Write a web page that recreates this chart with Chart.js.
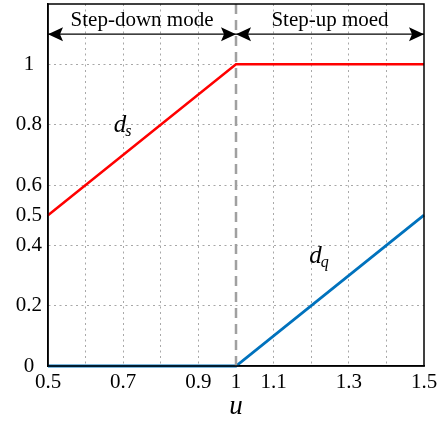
<!DOCTYPE html>
<html><head><meta charset="utf-8">
<script src="https://cdn.jsdelivr.net/npm/chart.js@4/dist/chart.umd.min.js"></script>
<style>html,body{margin:0;padding:0;background:#fff}#wrap{width:438px;height:423px}</style>
</head><body><div id="wrap"><canvas id="c" width="438" height="423"></canvas></div>
<script>
// ---- data ----
const uValues = [0.5, 1.0, 1.5];
const dsValues = [0.5, 1.0, 1.0];
const dqValues = [0.0, 0.0, 0.5];
const xTickLabels = [0.5, 0.7, 0.9, 1, 1.1, 1.3, 1.5];
const yTickLabels = [0, 0.2, 0.4, 0.5, 0.6, 0.8, 1];
const yGridValues = [0.2, 0.4, 0.6, 0.8, 1];
const modeBoundary = 1.0;
const modeArrowLevel = 1.1;
const modeNames = ['Step-down mode', 'Step-up moed'];
const modeRanges = [[0.5, 1.0], [1.0, 1.5]];

const FONT = '"Liberation Serif", "Times New Roman", serif';
const toPts = (xs, ys) => xs.map((x, i) => ({x, y: ys[i]}));

const frameAndNotes = {
  id: 'frameAndNotes',
  afterDatasetsDraw(chart) {
    const {ctx, chartArea: a, scales: {x, y}} = chart;
    ctx.save();
    ctx.fillStyle = '#000';
    const head = (px, py, dir) => {
      const L = 15, W = 7;
      ctx.beginPath();
      ctx.moveTo(px, py);
      ctx.lineTo(px - dir * L, py - W);
      ctx.lineTo(px - dir * L * 0.8, py);
      ctx.lineTo(px - dir * L, py + W);
      ctx.closePath();
      ctx.fill();
    };
    modeRanges.forEach(r => {
      const py = y.getPixelForValue(modeArrowLevel);
      head(x.getPixelForValue(r[0]), py, -1);
      head(x.getPixelForValue(r[1]), py, 1);
    });
    ctx.font = '21px ' + FONT;
    ctx.textAlign = 'center';
    ctx.textBaseline = 'alphabetic';
    modeRanges.forEach((r, i) => {
      const cx = (x.getPixelForValue(r[0]) + x.getPixelForValue(r[1])) / 2;
      ctx.fillText(modeNames[i], cx, y.getPixelForValue(modeArrowLevel) - 8);
    });
    const sub = (main, s, xv, yv) => {
      const px = x.getPixelForValue(xv), py = y.getPixelForValue(yv);
      ctx.textAlign = 'left';
      ctx.font = 'italic 25px ' + FONT;
      ctx.fillText(main, px, py);
      const w = ctx.measureText(main).width;
      ctx.font = 'italic 16px ' + FONT;
      ctx.fillText(s, px + w - 1, py + 4);
    };
    sub('d', 's', 0.675, 0.775);
    sub('d', 'q', 1.195, 0.34);
    ctx.strokeStyle = '#000';
    ctx.lineWidth = 1.5;
    ctx.strokeRect(a.left, a.top, a.right - a.left, a.bottom - a.top);
    ctx.restore();
  }
};

new Chart(document.getElementById('c'), {
  type: 'line',
  data: {
    datasets: [
      {data: [{x: modeBoundary, y: 0}, {x: modeBoundary, y: 1.2}], borderColor: '#a0a0a0', borderWidth: 2.5, borderDash: [10, 6], pointRadius: 0},
      {data: toPts(uValues, dsValues), borderColor: '#ff0000', borderWidth: 2.5, pointRadius: 0},
      {data: toPts(uValues, dqValues), borderColor: '#0072bd', borderWidth: 2.8, pointRadius: 0},
      {data: modeRanges[0].map(v => ({x: v, y: modeArrowLevel})), borderColor: '#000', borderWidth: 1.3, pointRadius: 0},
      {data: modeRanges[1].map(v => ({x: v, y: modeArrowLevel})), borderColor: '#000', borderWidth: 1.3, pointRadius: 0}
    ]
  },
  options: {
    responsive: false,
    animation: false,
    events: [],
    clip: false,
    layout: {padding: {left: 0, right: 14, top: 4, bottom: 0}},
    plugins: {legend: {display: false}, tooltip: {enabled: false}},
    scales: {
      x: {
        type: 'linear', min: 0.5, max: 1.5,
        afterBuildTicks: s => { s.ticks = [0.5,0.6,0.7,0.8,0.9,1,1.1,1.2,1.3,1.4,1.5].map(v => ({value: v})); },
        afterFit: s => { s.height = 57; s.paddingLeft = 0; s.paddingRight = 0; },
        ticks: {
          autoSkip: false, maxRotation: 0, padding: 4, color: '#000',
          font: {family: FONT, size: 21},
          callback: v => xTickLabels.some(t => Math.abs(t - v) < 1e-6) ? String(+v.toFixed(1)) : ''
        },
        grid: {
          drawTicks: false, lineWidth: 1,
          color: c => (c.tick && (Math.abs(c.tick.value - 0.5) < 1e-6 || Math.abs(c.tick.value - 1.5) < 1e-6 || Math.abs(c.tick.value - modeBoundary) < 1e-6)) ? 'rgba(0,0,0,0)' : '#a8a8a8'
        },
        border: {display: true, color: '#000', width: 1.5, dash: [2, 3.5]},
        title: {display: true, text: 'u', color: '#000', font: {family: FONT, size: 27, style: 'italic'}, padding: {top: 0, bottom: 0}}
      },
      y: {
        type: 'linear', min: 0, max: 1.2,
        afterBuildTicks: s => { s.ticks = [0, 0.2, 0.4, 0.5, 0.6, 0.8, 1, 1.2].map(v => ({value: v})); },
        afterFit: s => { s.width = 48; s.paddingTop = 0; s.paddingBottom = 0; },
        ticks: {
          autoSkip: false, padding: 6, crossAlign: 'center', color: '#000',
          font: {family: FONT, size: 21},
          callback: v => yTickLabels.some(t => Math.abs(t - v) < 1e-6) ? String(+v.toFixed(1)) : ''
        },
        grid: {
          drawTicks: false, lineWidth: 1,
          color: c => (c.tick && yGridValues.some(t => Math.abs(t - c.tick.value) < 1e-6)) ? '#a8a8a8' : 'rgba(0,0,0,0)'
        },
        border: {display: true, color: '#000', width: 1.5, dash: [2, 3.5]}
      }
    }
  },
  plugins: [frameAndNotes]
});
</script>
</body></html>
